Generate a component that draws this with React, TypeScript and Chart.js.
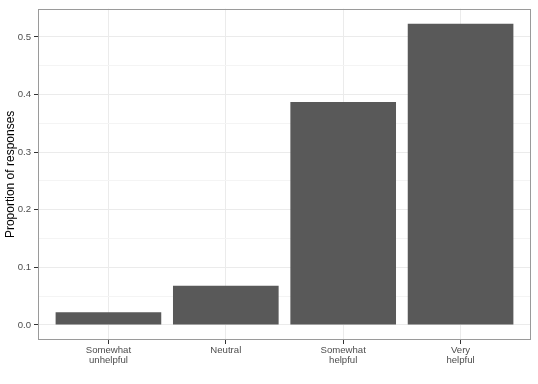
import React, { useEffect, useRef } from "react";
import { Chart, registerables } from "chart.js";

Chart.register(...registerables);

const categories: string[][] = [["Somewhat", "unhelpful"], ["Neutral"], ["Somewhat", "helpful"], ["Very", "helpful"]];
const positions: number[] = [1, 2, 3, 4];
const proportions: number[] = [0.022, 0.068, 0.387, 0.523];
const yMajorTicks: number[] = [0, 0.1, 0.2, 0.3, 0.4, 0.5];
const yMinorTicks: number[] = [0.05, 0.15, 0.25, 0.35, 0.45];
const yMin = -0.0262;
const yMax = 0.549;

const FONT = "'Liberation Sans', Arial, Helvetica, sans-serif";

export default function App() {
  const ref = useRef<HTMLCanvasElement | null>(null);
  useEffect(() => {
    document.body.style.margin = "0";
    const canvas = ref.current!;
    const borderPlugin = {
      id: "panelBorder",
      afterDraw(chart: any) {
        const { ctx, chartArea } = chart;
        ctx.save();
        ctx.strokeStyle = "#9a9a9a";
        ctx.lineWidth = 1;
        ctx.strokeRect(
          Math.round(chartArea.left) + 0.5,
          Math.round(chartArea.top) + 0.5,
          Math.round(chartArea.right - chartArea.left) - 1,
          Math.round(chartArea.bottom - chartArea.top) - 1
        );
        ctx.restore();
      },
    };
    const isMajor = (v: number) => yMajorTicks.some((m) => Math.abs(m - v) < 1e-9);
    const chart = new Chart(canvas, {
      type: "bar",
      data: {
        datasets: [
          {
            data: positions.map((x, i) => ({ x, y: proportions[i] })),
            backgroundColor: "#595959",
            borderColor: "#595959",
            borderWidth: 0,
            barPercentage: 0.9,
            categoryPercentage: 1,
          },
        ],
      },
      options: {
        animation: false,
        responsive: false,
        maintainAspectRatio: false,
        layout: { padding: { left: 0, top: 6, right: 7, bottom: 0 } },
        plugins: { legend: { display: false }, tooltip: { enabled: false } },
        scales: {
          x: {
            type: "linear",
            min: 0.4,
            max: 4.6,
            offset: false,
            afterBuildTicks: (scale: any) => {
              scale.ticks = positions.map((v) => ({ value: v }));
            },
            afterFit: (scale: any) => {
              scale.height = 44;
            },
            border: { display: false },
            grid: {
              offset: false,
              color: "#ebebeb",
              lineWidth: 1,
              drawTicks: true,
              tickLength: 4,
              tickColor: "#333333",
            },
            ticks: {
              autoSkip: false,
              maxRotation: 0,
              padding: 1,
              color: "#4d4d4d",
              font: { family: FONT, size: 9.6, lineHeight: 1.1 },
              callback: (v: any) => {
                const i = positions.indexOf(Number(v));
                return i >= 0 ? categories[i] : "";
              },
            },
          },
          y: {
            type: "linear",
            min: yMin,
            max: yMax,
            afterBuildTicks: (scale: any) => {
              scale.ticks = [...yMajorTicks, ...yMinorTicks]
                .sort((a, b) => a - b)
                .map((v) => ({ value: v }));
            },
            afterFit: (scale: any) => {
              scale.width = 38;
            },
            border: { display: false },
            grid: {
              color: (ctx: any) => (isMajor(ctx.tick?.value) ? "#ebebeb" : "#f4f4f4"),
              lineWidth: 1,
              drawTicks: true,
              tickLength: 4,
              tickColor: (ctx: any) => (isMajor(ctx.tick?.value) ? "#333333" : "rgba(0,0,0,0)"),
            },
            ticks: {
              padding: 3,
              color: "#4d4d4d",
              font: { family: FONT, size: 9.6 },
              callback: (v: any) => (isMajor(Number(v)) ? Number(v).toFixed(1) : ""),
            },
            title: {
              display: true,
              text: "Proportion of responses",
              color: "#000000",
              font: { family: FONT, size: 12 },
              padding: { top: 3.5, bottom: 0 },
            },
          },
        },
      },
      plugins: [borderPlugin],
    } as any);
    return () => chart.destroy();
  }, []);
  return (
    <div style={{ width: 538, height: 384 }}>
      <canvas ref={ref} width={538} height={384} style={{ display: "block", width: 538, height: 384 }} />
    </div>
  );
}
